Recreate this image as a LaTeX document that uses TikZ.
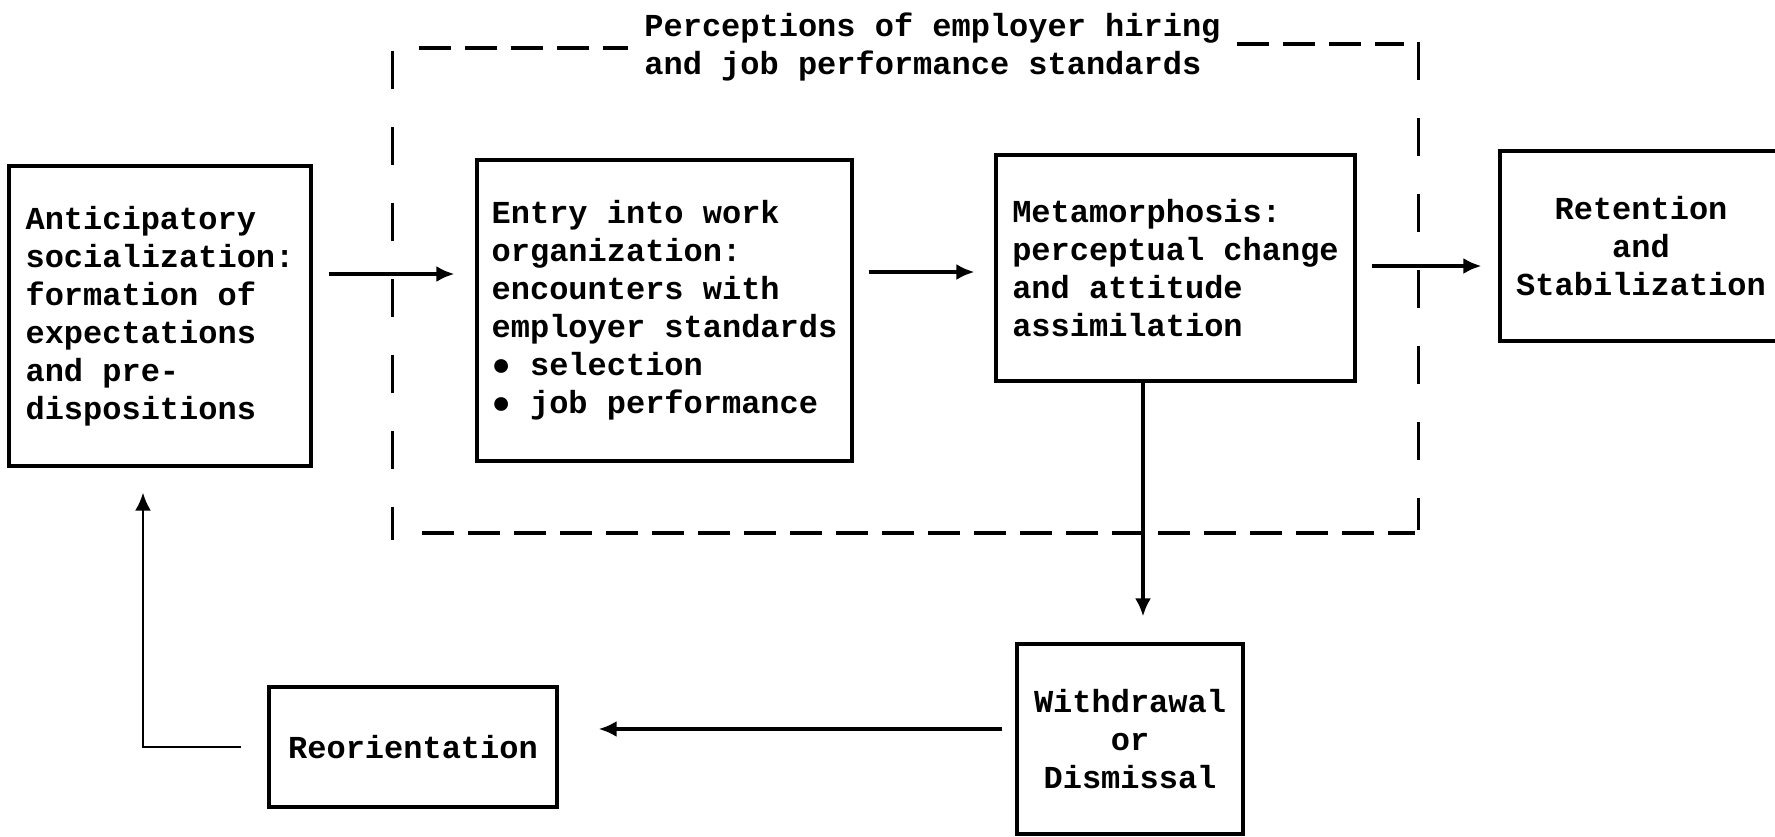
\documentclass[tikz,border=0pt]{standalone}
\usepackage{fontspec}
\setmainfont{Liberation Mono}
\usetikzlibrary{arrows.meta}
\begin{document}
\begin{tikzpicture}[x=0.5pt,y=-0.5pt,
  txt/.style={font=\fontsize{16}{19}\selectfont\bfseries},
  box/.style={txt, draw, line width=1.6pt, inner sep=0pt, align=left},
  cbox/.style={box, align=center},
  arr/.style={line width=1.7pt, -{Latex[length=9pt,width=8pt]}},
  hdash/.style={line width=1.6pt, dash pattern=on 16pt off 7pt},
  vdash/.style={line width=1.5pt, dash pattern=on 19pt off 19pt},
]
\useasboundingbox (0,0) rectangle (1775,836);
% dashed frame
\draw[hdash] (419,48) -- (628,48);
\draw[hdash] (1237,44) -- (1404,44);
\draw[hdash] (422,533) -- (1415,533);
\draw[vdash] (392,51) -- (392,540);
\draw[vdash] (1418,42) -- (1418,530);
\node[txt, align=left, anchor=west, inner sep=0pt] (title) at (644,47)
  {Perceptions of employer hiring\\and job performance standards};
% boxes
\node[box, minimum width=151pt, minimum height=150pt] (ant) at (160,316)
  {Anticipatory\\socialization:\\formation of\\expectations\\and pre-\\dispositions};
\node[box, minimum width=187.5pt, minimum height=150.5pt] (entry) at (664.5,310.5)
  {Entry into work\\organization:\\encounters with\\employer standards\\● selection\\● job performance};
\node[box, minimum width=179.5pt, minimum height=113pt] (meta) at (1175.5,268)
  {Metamorphosis:\\perceptual change\\and attitude\\assimilation};
\node[cbox, minimum width=141pt, minimum height=95pt] (ret) at (1641,246)
  {Retention\\and\\Stabilization};
\node[cbox, minimum width=113pt, minimum height=95pt] (wd) at (1130,739)
  {Withdrawal\\or\\Dismissal};
\node[cbox, minimum width=144pt, minimum height=60pt] (reo) at (413,747)
  {Reorientation};
% connectors
\draw[arr, shorten <=8pt, shorten >=10.5pt] (ant.east |- 0,274) -- (entry.west |- 0,274);
\draw[arr, shorten <=7.5pt, shorten >=10pt] (entry.east |- 0,272) -- (meta.west |- 0,272);
\draw[arr, shorten <=7.5pt, shorten >=8.5pt] (meta.east |- 0,266) -- (ret.west |- 0,266);
\draw[arr, shorten >=13pt] (meta.south -| 1143,0) -- (wd.north -| 1143,0);
\draw[arr, shorten <=6.5pt, shorten >=20pt] (wd.west |- 0,729) -- (reo.east |- 0,729);
\draw[arr, line width=1.3pt, shorten <=13pt, shorten >=12.5pt] (reo.west) -| (ant.south -| 143,0);
\end{tikzpicture}
\end{document}
